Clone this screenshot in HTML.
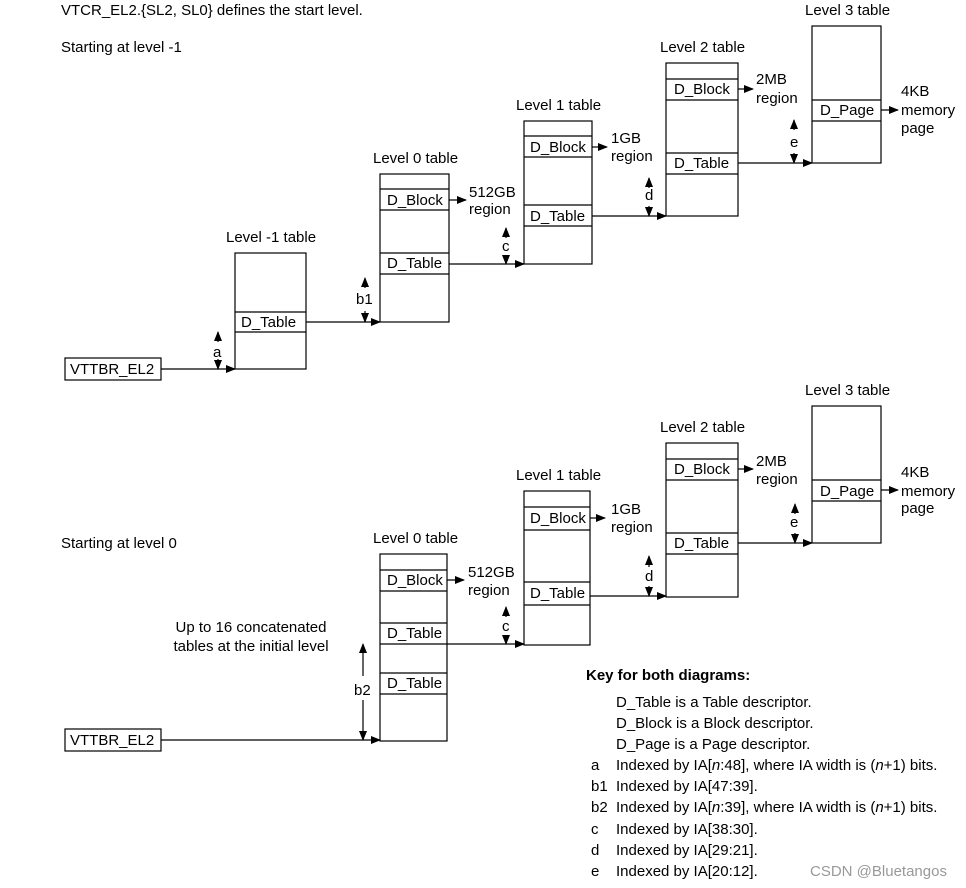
<!DOCTYPE html>
<html><head><meta charset="utf-8"><style>
html,body{margin:0;padding:0;background:#fff;}
svg{display:block;font-family:"Liberation Sans",Arial,sans-serif;font-size:15px;}
</style></head><body>
<svg width="966" height="888" viewBox="0 0 966 888" xmlns="http://www.w3.org/2000/svg">
<defs>
<marker id="ar" markerWidth="10" markerHeight="8" refX="9" refY="4" orient="auto" markerUnits="userSpaceOnUse"><path d="M0,0 L10,4 L0,8 z" fill="#000"/></marker>
</defs>
<g fill="#000">
<text x="61" y="15">VTCR_EL2.{SL2, SL0} defines the start level.</text>
<text x="61" y="52">Starting at level -1</text>
<text x="61" y="548">Starting at level 0</text>
</g>
<g fill="none" stroke="#000" stroke-width="1.2">
<rect x="65" y="358" width="96" height="22"/>
<rect x="235" y="253" width="71" height="116"/>
<line x1="235" y1="312" x2="306" y2="312"/><line x1="235" y1="332" x2="306" y2="332"/>
<rect x="380" y="174" width="69" height="148"/>
<line x1="380" y1="189" x2="449" y2="189"/><line x1="380" y1="210" x2="449" y2="210"/>
<line x1="380" y1="253" x2="449" y2="253"/><line x1="380" y1="274" x2="449" y2="274"/>
<rect x="524" y="121" width="68" height="143"/>
<line x1="524" y1="136" x2="592" y2="136"/><line x1="524" y1="157" x2="592" y2="157"/>
<line x1="524" y1="205" x2="592" y2="205"/><line x1="524" y1="226" x2="592" y2="226"/>
<rect x="666" y="63" width="72" height="153"/>
<line x1="666" y1="79" x2="738" y2="79"/><line x1="666" y1="100" x2="738" y2="100"/>
<line x1="666" y1="153" x2="738" y2="153"/><line x1="666" y1="174" x2="738" y2="174"/>
<rect x="812" y="26" width="69" height="137"/>
<line x1="812" y1="100" x2="881" y2="100"/><line x1="812" y1="121" x2="881" y2="121"/>
<line x1="161" y1="369" x2="235" y2="369" marker-end="url(#ar)"/>
<line x1="306" y1="322" x2="380" y2="322" marker-end="url(#ar)"/>
<line x1="449" y1="264" x2="524" y2="264" marker-end="url(#ar)"/>
<line x1="592" y1="216" x2="666" y2="216" marker-end="url(#ar)"/>
<line x1="738" y1="163" x2="812" y2="163" marker-end="url(#ar)"/>
<line x1="449" y1="200" x2="466" y2="200" marker-end="url(#ar)"/>
<line x1="592" y1="147" x2="607" y2="147" marker-end="url(#ar)"/>
<line x1="738" y1="89" x2="753" y2="89" marker-end="url(#ar)"/>
<line x1="881" y1="110" x2="898" y2="110" marker-end="url(#ar)"/>
<rect x="65" y="729" width="96" height="22"/>
<rect x="380" y="554" width="67" height="187"/>
<line x1="380" y1="570" x2="447" y2="570"/><line x1="380" y1="591" x2="447" y2="591"/>
<line x1="380" y1="623" x2="447" y2="623"/><line x1="380" y1="644" x2="447" y2="644"/>
<line x1="380" y1="673" x2="447" y2="673"/><line x1="380" y1="694" x2="447" y2="694"/>
<rect x="524" y="491" width="66" height="154"/>
<line x1="524" y1="507" x2="590" y2="507"/><line x1="524" y1="530" x2="590" y2="530"/>
<line x1="524" y1="582" x2="590" y2="582"/><line x1="524" y1="605" x2="590" y2="605"/>
<rect x="666" y="443" width="72" height="154"/>
<line x1="666" y1="459" x2="738" y2="459"/><line x1="666" y1="480" x2="738" y2="480"/>
<line x1="666" y1="533" x2="738" y2="533"/><line x1="666" y1="554" x2="738" y2="554"/>
<rect x="812" y="406" width="69" height="137"/>
<line x1="812" y1="480" x2="881" y2="480"/><line x1="812" y1="501" x2="881" y2="501"/>
<line x1="161" y1="740" x2="380" y2="740" marker-end="url(#ar)"/>
<line x1="447" y1="644" x2="524" y2="644" marker-end="url(#ar)"/>
<line x1="590" y1="596" x2="666" y2="596" marker-end="url(#ar)"/>
<line x1="738" y1="543" x2="812" y2="543" marker-end="url(#ar)"/>
<line x1="447" y1="580" x2="464" y2="580" marker-end="url(#ar)"/>
<line x1="590" y1="518" x2="605" y2="518" marker-end="url(#ar)"/>
<line x1="738" y1="469" x2="753" y2="469" marker-end="url(#ar)"/>
<line x1="881" y1="490" x2="898" y2="490" marker-end="url(#ar)"/>
<line x1="218" y1="342" x2="218" y2="332" marker-end="url(#ar)"/>
<line x1="218" y1="359" x2="218" y2="369" marker-end="url(#ar)"/>
<line x1="365" y1="288" x2="365" y2="278" marker-end="url(#ar)"/>
<line x1="365" y1="311" x2="365" y2="322" marker-end="url(#ar)"/>
<line x1="506" y1="238" x2="506" y2="228" marker-end="url(#ar)"/>
<line x1="506" y1="255" x2="506" y2="264" marker-end="url(#ar)"/>
<line x1="649" y1="188" x2="649" y2="178" marker-end="url(#ar)"/>
<line x1="649" y1="206" x2="649" y2="216" marker-end="url(#ar)"/>
<line x1="794" y1="130" x2="794" y2="120" marker-end="url(#ar)"/>
<line x1="794" y1="153" x2="794" y2="163" marker-end="url(#ar)"/>
<line x1="363" y1="676" x2="363" y2="644" marker-end="url(#ar)"/>
<line x1="363" y1="700" x2="363" y2="740" marker-end="url(#ar)"/>
<line x1="506" y1="617" x2="506" y2="607" marker-end="url(#ar)"/>
<line x1="506" y1="635" x2="506" y2="644" marker-end="url(#ar)"/>
<line x1="649" y1="567" x2="649" y2="556" marker-end="url(#ar)"/>
<line x1="649" y1="586" x2="649" y2="596" marker-end="url(#ar)"/>
<line x1="795" y1="514" x2="795" y2="504" marker-end="url(#ar)"/>
<line x1="795" y1="533" x2="795" y2="543" marker-end="url(#ar)"/>
</g>
<g fill="#000">
<text x="70" y="374">VTTBR_EL2</text>
<text x="226" y="242">Level -1 table</text>
<text x="241" y="327">D_Table</text>
<text x="373" y="163">Level 0 table</text>
<text x="387" y="205">D_Block</text>
<text x="387" y="268">D_Table</text>
<text x="469" y="197">512GB</text><text x="469" y="214">region</text>
<text x="516" y="110">Level 1 table</text>
<text x="530" y="152">D_Block</text>
<text x="530" y="221">D_Table</text>
<text x="611" y="143">1GB</text><text x="611" y="161">region</text>
<text x="660" y="52">Level 2 table</text>
<text x="674" y="94">D_Block</text>
<text x="674" y="168">D_Table</text>
<text x="756" y="84">2MB</text><text x="756" y="103">region</text>
<text x="805" y="15">Level 3 table</text>
<text x="820" y="115">D_Page</text>
<text x="901" y="96">4KB</text><text x="901" y="115">memory</text><text x="901" y="133">page</text>
<text x="213" y="357">a</text>
<text x="356" y="304">b1</text>
<text x="502" y="251">c</text>
<text x="645" y="200">d</text>
<text x="790" y="147">e</text>
<text x="70" y="745">VTTBR_EL2</text>
<text x="251" y="632" text-anchor="middle">Up to 16 concatenated</text>
<text x="251" y="651" text-anchor="middle">tables at the initial level</text>
<text x="354" y="695">b2</text>
<text x="373" y="543">Level 0 table</text>
<text x="387" y="585">D_Block</text>
<text x="387" y="638">D_Table</text>
<text x="387" y="688">D_Table</text>
<text x="468" y="577">512GB</text><text x="468" y="595">region</text>
<text x="516" y="480">Level 1 table</text>
<text x="530" y="523">D_Block</text>
<text x="530" y="598">D_Table</text>
<text x="611" y="514">1GB</text><text x="611" y="532">region</text>
<text x="660" y="432">Level 2 table</text>
<text x="674" y="474">D_Block</text>
<text x="674" y="548">D_Table</text>
<text x="756" y="466">2MB</text><text x="756" y="484">region</text>
<text x="805" y="395">Level 3 table</text>
<text x="820" y="496">D_Page</text>
<text x="901" y="477">4KB</text><text x="901" y="496">memory</text><text x="901" y="513">page</text>
<text x="502" y="631">c</text>
<text x="645" y="581">d</text>
<text x="790" y="527">e</text>
<text x="586" y="680" font-weight="bold">Key for both diagrams:</text>
<text x="616" y="707">D_Table is a Table descriptor.</text>
<text x="616" y="728">D_Block is a Block descriptor.</text>
<text x="616" y="749">D_Page is a Page descriptor.</text>
<text x="591" y="770">a</text><text x="616" y="770">Indexed by IA[<tspan font-style="italic">n</tspan>:48], where IA width is (<tspan font-style="italic">n</tspan>+1) bits.</text>
<text x="591" y="791">b1</text><text x="616" y="791">Indexed by IA[47:39].</text>
<text x="591" y="812">b2</text><text x="616" y="812">Indexed by IA[<tspan font-style="italic">n</tspan>:39], where IA width is (<tspan font-style="italic">n</tspan>+1) bits.</text>
<text x="591" y="834">c</text><text x="616" y="834">Indexed by IA[38:30].</text>
<text x="591" y="855">d</text><text x="616" y="855">Indexed by IA[29:21].</text>
<text x="591" y="876">e</text><text x="616" y="876">Indexed by IA[20:12].</text>
<text x="810" y="876" fill="#999">CSDN @Bluetangos</text>
</g>
</svg>
</body></html>
